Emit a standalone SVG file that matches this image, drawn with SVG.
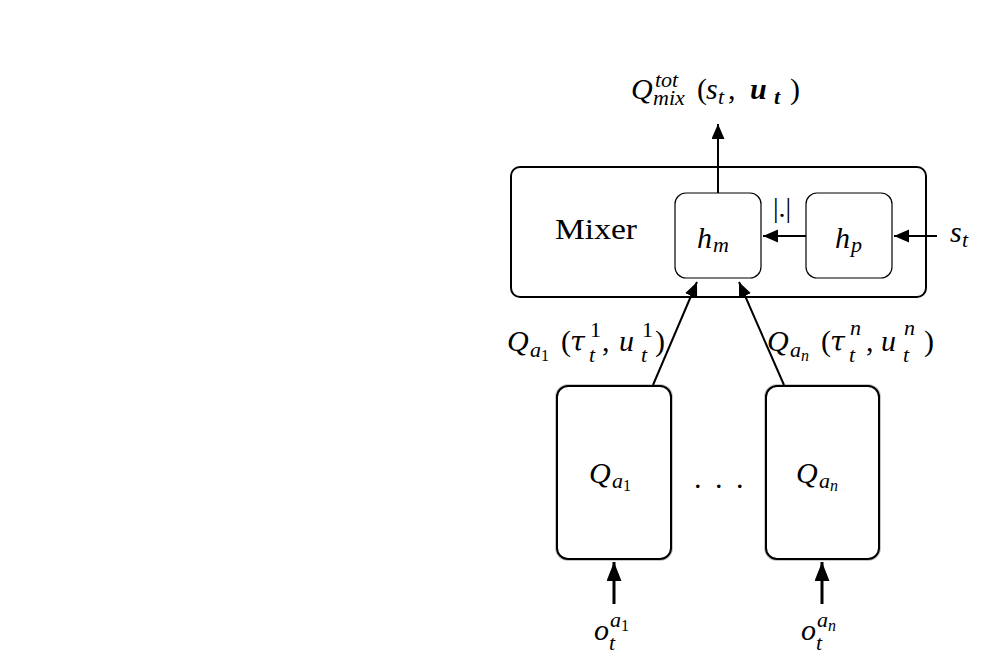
<svg xmlns="http://www.w3.org/2000/svg" width="983" height="660" viewBox="0 0 983 660">
<defs>
<marker id="ah" markerUnits="userSpaceOnUse" markerWidth="16" markerHeight="14" refX="15" refY="6.5" orient="auto" viewBox="0 0 16 14">
<path d="M0,0 L15,6.5 L0,13 Z" fill="#000"/>
</marker>
<marker id="ahb" markerUnits="userSpaceOnUse" markerWidth="20" markerHeight="16" refX="19" refY="7.5" orient="auto" viewBox="0 0 20 16">
<path d="M0,0 L19,7.5 L0,15 Z" fill="#000"/>
</marker>
</defs>
<rect width="983" height="660" fill="#fff"/>

<g id="mixer">
<rect x="511" y="167" width="415" height="130" rx="9" fill="#fff" stroke="#000" stroke-width="2"/>
<text font-family="Liberation Serif" font-size="30" x="555" y="239" textLength="82" lengthAdjust="spacingAndGlyphs">Mixer</text>
</g>

<g id="hm">
<rect x="675" y="193" width="86" height="85" rx="11" fill="#fff" stroke="#000" stroke-width="1.2"/>
<text font-family="Liberation Serif" font-style="italic" font-size="30" y="248"><tspan x="697">h</tspan><tspan font-size="22" x="713" y="252">m</tspan></text>
</g>

<g id="hp">
<rect x="806" y="193" width="86" height="85" rx="11" fill="#fff" stroke="#000" stroke-width="1.2"/>
<text font-family="Liberation Serif" font-style="italic" font-size="30" y="248"><tspan x="835">h</tspan><tspan font-size="22" x="851" y="252">p</tspan></text>
</g>

<g id="qa1">
<rect x="557" y="386" width="114" height="173" rx="11" fill="none" stroke="#c8c8c8" stroke-width="4"/>
<rect x="557" y="386" width="114" height="173" rx="11" fill="#fff" stroke="#000" stroke-width="2"/>
<text font-family="Liberation Serif" font-style="italic" font-size="30" y="483"><tspan x="589">Q</tspan><tspan font-size="22" x="612" y="488">a</tspan><tspan font-size="16" font-style="normal" x="623" y="491">1</tspan></text>
</g>

<g id="qan">
<rect x="766" y="386" width="113" height="173" rx="11" fill="none" stroke="#c8c8c8" stroke-width="4"/>
<rect x="766" y="386" width="113" height="173" rx="11" fill="#fff" stroke="#000" stroke-width="2"/>
<text font-family="Liberation Serif" font-style="italic" font-size="30" y="483"><tspan x="796">Q</tspan><tspan font-size="22" x="819" y="488">a</tspan><tspan font-size="16" x="830" y="491">n</tspan></text>
</g>

<g id="dots">
<text font-family="Liberation Serif" font-size="30" x="694 715 736" y="488">...</text>
</g>

<g id="connectors" stroke="#000" fill="none">
<line x1="718" y1="193" x2="718" y2="124" stroke-width="2" marker-end="url(#ah)"/>
<line x1="806" y1="236" x2="763" y2="236" stroke-width="2" marker-end="url(#ah)"/>
<line x1="937" y1="236" x2="894" y2="236" stroke-width="2" marker-end="url(#ah)"/>
<line x1="653" y1="385" x2="697" y2="282" stroke-width="2" marker-end="url(#ah)"/>
<line x1="784" y1="385" x2="739" y2="282" stroke-width="2" marker-end="url(#ah)"/>
<line x1="614" y1="604" x2="614" y2="562" stroke-width="3" marker-end="url(#ahb)"/>
<line x1="822" y1="604" x2="822" y2="562" stroke-width="3" marker-end="url(#ahb)"/>
</g>

<g id="labels">
<text font-family="Liberation Serif" font-style="italic" font-size="30" y="99"><tspan x="631">Q</tspan><tspan font-size="22" x="655" y="87">tot</tspan><tspan font-size="22" x="653" y="105">mix</tspan><tspan font-style="normal" x="697" y="99">(</tspan><tspan x="706">s</tspan><tspan font-size="22" x="718" y="104">t</tspan><tspan font-style="normal" x="728" y="99">,</tspan><tspan font-weight="bold" x="750">u</tspan><tspan font-size="22" font-weight="bold" x="774" y="104">t</tspan><tspan font-style="normal" x="790" y="99">)</tspan></text>

<text font-family="Liberation Serif" font-size="28" x="773" y="217">|.|</text>

<text font-family="Liberation Serif" font-style="italic" font-size="30" y="242"><tspan x="950">s</tspan><tspan font-size="22" x="962" y="247">t</tspan></text>

<text font-family="Liberation Serif" font-style="italic" font-size="30" y="351"><tspan x="507">Q</tspan><tspan font-size="22" x="530" y="357">a</tspan><tspan font-size="16" font-style="normal" x="541" y="361">1</tspan><tspan font-style="normal" x="561" y="351">(</tspan><tspan font-family="DejaVu Serif" font-size="27" x="570">τ</tspan><tspan font-size="22" font-style="normal" x="590" y="337">1</tspan><tspan font-size="22" x="589" y="362">t</tspan><tspan font-style="normal" x="602" y="351">,</tspan><tspan x="619">u</tspan><tspan font-size="22" font-style="normal" x="642" y="337">1</tspan><tspan font-size="22" x="641" y="362">t</tspan><tspan font-style="normal" x="655" y="351">)</tspan></text>

<text font-family="Liberation Serif" font-style="italic" font-size="30" y="351"><tspan x="767">Q</tspan><tspan font-size="22" x="790" y="357">a</tspan><tspan font-size="16" x="801" y="361">n</tspan><tspan font-style="normal" x="821" y="351">(</tspan><tspan font-family="DejaVu Serif" font-size="27" x="830">τ</tspan><tspan font-size="22" x="850" y="335">n</tspan><tspan font-size="22" x="849" y="362">t</tspan><tspan font-style="normal" x="866" y="351">,</tspan><tspan x="881">u</tspan><tspan font-size="22" x="904" y="335">n</tspan><tspan font-size="22" x="903" y="362">t</tspan><tspan font-style="normal" x="924" y="351">)</tspan></text>

<text font-family="Liberation Serif" font-style="italic" font-size="30" y="640"><tspan x="594">o</tspan><tspan font-size="22" x="610" y="627">a</tspan><tspan font-size="16" font-style="normal" x="621" y="631">1</tspan><tspan font-size="22" x="609" y="650">t</tspan></text>

<text font-family="Liberation Serif" font-style="italic" font-size="30" y="640"><tspan x="801">o</tspan><tspan font-size="22" x="817" y="627">a</tspan><tspan font-size="16" x="828" y="631">n</tspan><tspan font-size="22" x="816" y="650">t</tspan></text>
</g>
</svg>
